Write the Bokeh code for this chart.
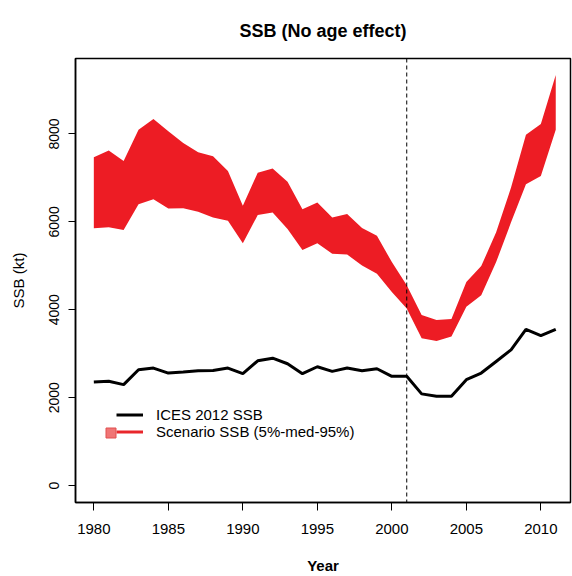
from bokeh.plotting import figure
from bokeh.models import Range1d, Span, Legend, LegendItem, FixedTicker
from bokeh.embed import file_html
from bokeh.resources import INLINE

years = list(range(1980, 2012))
ices_ssb = [2357, 2373, 2298, 2637, 2674, 2561, 2584, 2614, 2621, 2674,
            2546, 2840, 2900, 2772, 2546, 2704, 2599, 2674, 2614, 2659,
            2486, 2486, 2087, 2034, 2034, 2411, 2561, 2825, 3089, 3556,
            3412, 3556]
scen_upper = [7473, 7623, 7383, 8097, 8339, 8060, 7797, 7586, 7496, 7157,
              6366, 7119, 7216, 6915, 6290, 6441, 6102, 6177, 5860, 5687,
              5085, 4557, 3880, 3767, 3789, 4633, 4994, 5763, 6780, 7985,
              8226, 9341]
scen_lower = [5853, 5876, 5815, 6403, 6516, 6305, 6313, 6230, 6102, 6026,
              5514, 6155, 6215, 5838, 5363, 5514, 5273, 5258, 5010, 4821,
              4407, 4030, 3352, 3292, 3390, 4068, 4332, 5085, 5989, 6855,
              7043, 8097]
marker_year = 2001
x_ticks = [1980, 1985, 1990, 1995, 2000, 2005, 2010]
y_ticks = [0, 2000, 4000, 6000, 8000]

FONT = "Liberation Sans"
RED = "#ED1C24"
NAN = float("nan")

p = figure(width=572, height=576, output_backend="svg", toolbar_location=None,
           x_range=Range1d(1978.77, 2011.99), y_range=Range1d(-384, 9717),
           min_border_left=75, min_border_right=2, min_border_top=55,
           min_border_bottom=74)

p.title.text = "SSB (No age effect)"
p.title.align = "center"
p.title.text_font = FONT
p.title.text_font_size = "18px"
p.title.text_font_style = "bold"
p.title.text_color = "black"
p.title.standoff = 36

p.xgrid.visible = False
p.ygrid.visible = False
p.outline_line_color = "black"
p.outline_line_width = 1.5

band = p.varea(x=years, y1=scen_lower, y2=scen_upper, fill_color=RED)
ices = p.line(years, ices_ssb, line_color="black", line_width=3)
# legend-only glyphs (NaN data, not drawn on the plot)
leg_line = p.line(x=[NAN], y=[NAN], line_color="#E8262B", line_width=3)
leg_sq = p.scatter(x=[NAN], y=[NAN], marker="square", size=10,
                   fill_color="#F07575", line_color="#E05050")

p.add_layout(Span(location=marker_year, dimension="height", line_color="black",
                  line_width=1, line_dash="4 3"))

for ax in (p.xaxis[0], p.yaxis[0]):
    ax.axis_line_color = "black"
    ax.axis_line_width = 1.5
    ax.major_tick_line_color = "black"
    ax.major_tick_in = 0
    ax.minor_tick_line_color = None
    ax.major_label_text_font = FONT
    ax.axis_label_text_font = FONT
    ax.axis_label_text_color = "black"
    ax.major_label_text_color = "black"

p.xaxis.ticker = FixedTicker(ticks=x_ticks)
p.xaxis.major_tick_out = 8
p.xaxis.major_label_text_font_size = "15px"
p.xaxis.major_label_standoff = 13
p.xaxis.axis_label = "Year"
p.xaxis.axis_label_text_font_size = "15px"
p.xaxis.axis_label_text_font_style = "bold"
p.xaxis.axis_label_standoff = 20

p.yaxis.ticker = FixedTicker(ticks=y_ticks)
p.yaxis.major_tick_out = 7
p.yaxis.major_label_text_font_size = "14px"
p.yaxis.major_label_orientation = "vertical"
p.yaxis.major_label_standoff = 9
p.yaxis.axis_label = "SSB (kt)"
p.yaxis.axis_label_text_font_size = "15px"
p.yaxis.axis_label_text_font_style = "normal"
p.yaxis.axis_label_standoff = 20

def style_legend(lg):
    lg.padding = 0
    lg.margin = 0
    lg.spacing = 0
    lg.glyph_height = 17
    lg.label_height = 17
    lg.label_text_font = FONT
    lg.label_text_font_size = "15px"
    lg.label_text_color = "black"
    lg.border_line_color = None
    lg.background_fill_alpha = 0

legend = Legend(items=[
    LegendItem(label="ICES 2012 SSB", renderers=[ices]),
    LegendItem(label="Scenario SSB (5%-med-95%)", renderers=[leg_line]),
], location=(41, 62))
style_legend(legend)
legend.glyph_width = 27
legend.label_standoff = 13
p.add_layout(legend, "center")

# legend square: marker size in a legend is 0.4 x the glyph box
sq_legend = Legend(items=[LegendItem(label=" ", renderers=[leg_sq])],
                   location=(23, 57))
style_legend(sq_legend)
sq_legend.glyph_width = 25
sq_legend.glyph_height = 25
sq_legend.label_height = 25
sq_legend.label_standoff = 0
p.add_layout(sq_legend, "center")

with open("out.html", "w") as f:
    f.write(file_html(p, INLINE))
